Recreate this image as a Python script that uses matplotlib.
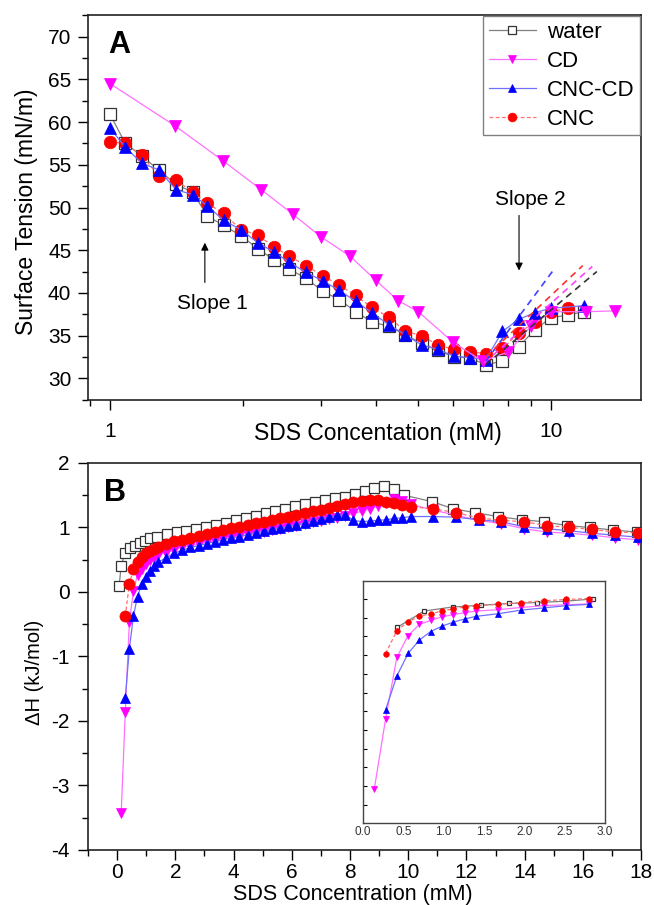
import matplotlib
matplotlib.use("Agg")
import matplotlib.pyplot as plt
from matplotlib.ticker import MultipleLocator, LogLocator, NullFormatter, FixedLocator, FixedFormatter

plt.rcParams['font.family'] = ['Liberation Sans', 'DejaVu Sans']
plt.rcParams['axes.unicode_minus'] = False

# ---- panel A : surface tension vs SDS (log x) ----
a_water_x = [1.0, 1.08, 1.18, 1.29, 1.41, 1.54, 1.66, 1.81, 1.98, 2.16, 2.35, 2.55, 2.78, 3.04, 3.31,
             3.61, 3.92, 4.28, 4.67, 5.09, 5.53, 6.02, 6.54, 7.11, 7.76, 8.45, 9.19, 10.0, 10.9, 11.85]
a_water_y = [60.9, 57.6, 56.0, 54.4, 52.7, 51.8, 49.0, 47.9, 46.7, 45.2, 43.9, 42.8, 41.7, 40.2, 39.2,
             37.8, 36.6, 36.1, 35.1, 34.1, 33.3, 32.5, 32.4, 31.6, 32.0, 33.7, 35.7, 37.1, 37.4, 37.8]

a_cd_x = [1.0, 1.4, 1.8, 2.2, 2.6, 3.0, 3.5, 4.0, 4.5, 5.0, 6.0, 7.0, 8.0, 9.0, 10.0, 12.0, 14.0]
a_cd_y = [64.5, 59.6, 55.5, 52.1, 49.2, 46.6, 44.3, 41.5, 39.1, 37.8, 34.2, 32.0, 33.1, 36.1, 37.8, 37.8, 37.9]

a_cnccd_x = [1.0, 1.08, 1.18, 1.29, 1.41, 1.54, 1.66, 1.81, 1.98, 2.16, 2.35, 2.55, 2.78, 3.04, 3.31,
             3.61, 3.92, 4.28, 4.67, 5.09, 5.53, 6.02, 6.54, 7.11, 7.76, 8.45, 9.19, 10.0, 11.85]
a_cnccd_y = [59.3, 57.1, 55.2, 54.4, 52.1, 51.5, 50.2, 48.5, 47.4, 45.9, 44.8, 43.6, 42.4, 41.4, 40.3,
             39.0, 37.7, 36.3, 35.1, 33.9, 33.4, 32.6, 32.4, 32.2, 35.5, 36.9, 37.7, 38.2, 38.5]

a_cnc_x = [1.0, 1.08, 1.18, 1.29, 1.41, 1.54, 1.66, 1.81, 1.98, 2.16, 2.35, 2.55, 2.78, 3.04, 3.31,
           3.61, 3.92, 4.28, 4.67, 5.09, 5.53, 6.02, 6.54, 7.11, 7.76, 8.45, 9.19, 10.0, 10.9]
a_cnc_y = [57.7, 57.5, 56.1, 53.7, 53.2, 51.8, 50.5, 49.3, 47.4, 46.8, 45.4, 44.3, 43.2, 42.0, 40.9,
           39.7, 38.3, 37.2, 35.5, 35.0, 33.9, 33.4, 33.1, 32.9, 33.5, 35.3, 36.6, 37.8, 38.2]

# slope-2 fit lines (start, end)
fit_water_x, fit_water_y = [7.11, 12.7], [31.6, 42.5]
fit_cd_x, fit_cd_y = [7.06, 12.4], [31.8, 43.1]
fit_cnccd_x, fit_cnccd_y = [7.11, 10.1], [32.0, 42.6]
fit_cnc_x, fit_cnc_y = [7.11, 11.8], [32.5, 43.2]

# ---- panel B : enthalpy vs SDS ----
b_water_x = [0.07, 0.14, 0.28, 0.45, 0.62, 0.79, 0.96, 1.13, 1.36, 1.70, 2.04, 2.38, 2.72, 3.06, 3.40,
             3.74, 4.08, 4.42, 4.76, 5.10, 5.44, 5.78, 6.12, 6.46, 6.80, 7.14, 7.48, 7.82, 8.16, 8.50,
             8.84, 9.18, 9.52, 9.86, 10.83, 11.55, 12.31, 13.08, 13.91, 14.66, 15.45, 16.24, 17.04, 17.86]
b_water_y = [0.10, 0.41, 0.61, 0.68, 0.72, 0.76, 0.79, 0.83, 0.86, 0.90, 0.93, 0.95, 0.98, 1.01, 1.04,
             1.07, 1.11, 1.15, 1.18, 1.22, 1.25, 1.29, 1.33, 1.36, 1.39, 1.42, 1.45, 1.48, 1.52, 1.57,
             1.62, 1.65, 1.60, 1.50, 1.40, 1.29, 1.23, 1.17, 1.12, 1.09, 1.03, 1.00, 0.96, 0.93]

b_cd_x = [0.14, 0.28, 0.42, 0.56, 0.70, 0.84, 0.98, 1.12, 1.26, 1.40, 1.68, 1.96, 2.24, 2.52, 2.80,
          3.08, 3.36, 3.64, 3.92, 4.20, 4.48, 4.76, 5.04, 5.32, 5.60, 5.88, 6.16, 6.44, 6.72, 7.00,
          7.28, 7.56, 7.84, 8.12, 8.40, 8.68, 8.96, 9.24, 9.52, 9.80, 10.08, 10.86, 11.64, 12.42, 13.20,
          13.98, 14.76, 15.54, 16.32, 17.10, 17.88]
b_cd_y = [-3.43, -1.86, -0.47, 0.02, 0.27, 0.36, 0.44, 0.49, 0.53, 0.57, 0.61, 0.65, 0.69, 0.72, 0.74,
          0.77, 0.79, 0.82, 0.84, 0.86, 0.88, 0.91, 0.93, 0.96, 0.98, 1.00, 1.03, 1.05, 1.08, 1.10,
          1.13, 1.15, 1.18, 1.22, 1.25, 1.29, 1.33, 1.38, 1.44, 1.41, 1.36, 1.27, 1.19, 1.11, 1.06,
          0.98, 0.93, 0.91, 0.88, 0.84, 0.81]

b_cnccd_x = b_cd_x[1:]
b_cnccd_y = [-1.64, -0.88, -0.37, -0.07, 0.12, 0.24, 0.33, 0.40, 0.46, 0.53, 0.60, 0.65, 0.69, 0.72,
             0.75, 0.78, 0.81, 0.84, 0.86, 0.89, 0.92, 0.94, 0.97, 0.99, 1.02, 1.04, 1.07, 1.10, 1.13,
             1.16, 1.19, 1.20, 1.11, 1.09, 1.10, 1.11, 1.12, 1.14, 1.15, 1.17, 1.17, 1.16, 1.12, 1.09,
             1.01, 0.98, 0.95, 0.91, 0.88, 0.85]

b_cnc_x = b_cd_x[1:]
b_cnc_y = [-0.38, 0.13, 0.35, 0.47, 0.54, 0.60, 0.64, 0.67, 0.70, 0.75, 0.79, 0.81, 0.84, 0.87,
           0.90, 0.93, 0.96, 0.99, 1.01, 1.04, 1.07, 1.09, 1.12, 1.14, 1.17, 1.19, 1.22, 1.25, 1.27,
           1.30, 1.33, 1.36, 1.39, 1.41, 1.42, 1.42, 1.40, 1.38, 1.35, 1.32, 1.29, 1.23, 1.15, 1.11,
           1.09, 1.03, 1.00, 0.97, 0.93, 0.92]

# ---- inset : low concentration zoom ----
i_water_x = [0.42, 0.76, 1.11, 1.46, 1.81, 2.16, 2.50, 2.85]
i_water_y = [0.20, 0.57, 0.66, 0.70, 0.74, 0.76, 0.79, 0.84]
i_cd_x = [0.14, 0.28, 0.42, 0.56, 0.70, 0.84, 0.98, 1.12, 1.26, 1.40, 1.68, 1.96, 2.24, 2.52, 2.80]
i_cd_y = [-3.43, -1.86, -0.47, 0.02, 0.27, 0.36, 0.44, 0.49, 0.53, 0.57, 0.60, 0.65, 0.69, 0.71, 0.73]
i_cnccd_x = i_cd_x[1:]
i_cnccd_y = [-1.65, -0.89, -0.38, -0.08, 0.11, 0.23, 0.32, 0.39, 0.45, 0.51, 0.59, 0.64, 0.69, 0.72]
i_cnc_x = i_cd_x[1:]
i_cnc_y = [-0.39, 0.13, 0.33, 0.45, 0.51, 0.57, 0.62, 0.66, 0.69, 0.72, 0.76, 0.80, 0.83, 0.85]

labels = ['water', 'CD', 'CNC-CD', 'CNC']
mark = {'water': 's', 'CD': 'v', 'CNC-CD': '^', 'CNC': 'o'}
mcol = {'water': '#333333', 'CD': '#ff00ff', 'CNC-CD': '#0000ff', 'CNC': '#ff0000'}
lcol = {'water': '#808080', 'CD': '#ff70ff', 'CNC-CD': '#7070ff', 'CNC': '#ff7070'}
lsty = {'water': '-', 'CD': '-', 'CNC-CD': '-', 'CNC': (0, (3, 2))}


def draw(ax, x, y, name, ms, z):
    fc = 'white' if name == 'water' else mcol[name]
    ax.plot(x, y, color=lcol[name], ls=lsty[name], lw=0.9, marker=mark[name], ms=ms,
            mfc=fc, mec=mcol[name], mew=0.9 if name == 'water' else 0.5, label=name, zorder=z)


def style_ticks(ax, size):
    ax.tick_params(which='both', direction='out', top=False, right=False, width=1, labelsize=size)
    ax.tick_params(which='major', length=7)
    ax.tick_params(which='minor', length=4)
    for s in ax.spines.values():
        s.set_linewidth(1.2)
        s.set_color('#222222')


fig = plt.figure(figsize=(6.54, 9.05), dpi=100)
axA = fig.add_axes([0.1346, 0.558, 0.8456, 0.4254])
axB = fig.add_axes([0.1346, 0.0608, 0.8456, 0.4276])
axI = fig.add_axes([0.555, 0.0906, 0.370, 0.2677])

# panel A
draw(axA, a_water_x, a_water_y, 'water', 8, 3)
draw(axA, a_cd_x, a_cd_y, 'CD', 9, 6)
draw(axA, a_cnccd_x, a_cnccd_y, 'CNC-CD', 9, 5)
draw(axA, a_cnc_x, a_cnc_y, 'CNC', 9, 4)
for fx, fy, c in [(fit_water_x, fit_water_y, '#333333'), (fit_cd_x, fit_cd_y, '#ff40ff'),
                  (fit_cnccd_x, fit_cnccd_y, '#4040ff'), (fit_cnc_x, fit_cnc_y, '#ff3030')]:
    axA.plot(fx, fy, color=c, lw=1.2, ls=(0, (4, 3)), zorder=7)

axA.set_xscale('log')
axA.set_xlim(0.891, 16.0)
axA.set_ylim(27.46, 72.54)
axA.xaxis.set_major_locator(FixedLocator([1, 10]))
axA.xaxis.set_major_formatter(FixedFormatter(['1', '10']))
axA.xaxis.set_minor_locator(LogLocator(base=10, subs=range(2, 10)))
axA.xaxis.set_minor_formatter(NullFormatter())
axA.yaxis.set_major_locator(MultipleLocator(5))
axA.yaxis.set_minor_locator(MultipleLocator(2.5))
style_ticks(axA, 15)
axA.tick_params(axis='x', which='major', pad=9)
axA.tick_params(axis='y', pad=5)
axA.set_xlabel('SDS Concentation (mM)', fontsize=16.5)
axA.xaxis.set_label_coords(0.524, -0.056)
axA.set_ylabel('Surface Tension (mN/m)', fontsize=16.5)
axA.yaxis.set_label_coords(-0.09, 0.49)
axA.text(0.056, 0.922, 'A', transform=axA.transAxes, fontsize=22, fontweight='bold',
         ha='center', va='center')

h, l = axA.get_legend_handles_labels()
order = [l.index(n) for n in labels]
leg = axA.legend([h[i] for i in order], labels, loc='upper right', fontsize=16,
                 frameon=True, fancybox=False, edgecolor='#808080', framealpha=1,
                 borderaxespad=0.05, handlelength=2.1, handletextpad=0.5,
                 labelspacing=0.36, borderpad=0.25, markerscale=0.7)
leg.get_frame().set_linewidth(1.0)

axA.annotate('', xy=(1.64, 46.2), xytext=(1.64, 40.9),
             arrowprops=dict(arrowstyle='-|>', color='black', lw=0.8, mutation_scale=11))
axA.text(1.706, 38.8, 'Slope 1', fontsize=15, ha='center', va='center')
axA.annotate('', xy=(8.46, 42.3), xytext=(8.46, 49.4),
             arrowprops=dict(arrowstyle='-|>', color='black', lw=0.8, mutation_scale=11))
axA.text(8.96, 50.9, 'Slope 2', fontsize=15, ha='center', va='center')

# panel B
draw(axB, b_water_x, b_water_y, 'water', 7, 3)
draw(axB, b_cd_x, b_cd_y, 'CD', 7.5, 4)
draw(axB, b_cnccd_x, b_cnccd_y, 'CNC-CD', 7.5, 5)
draw(axB, b_cnc_x, b_cnc_y, 'CNC', 8, 6)
axB.set_xlim(-1, 18)
axB.set_ylim(-4, 2)
axB.xaxis.set_major_locator(MultipleLocator(2))
axB.xaxis.set_minor_locator(MultipleLocator(1))
axB.yaxis.set_major_locator(MultipleLocator(1))
axB.yaxis.set_minor_locator(MultipleLocator(0.5))
style_ticks(axB, 15)
axB.tick_params(axis='x', pad=2.5)
axB.tick_params(axis='y', pad=6)
axB.set_xlabel('SDS Concentration (mM)', fontsize=15.5)
axB.xaxis.set_label_coords(0.479, -0.088)
axB.set_ylabel('ΔH (kJ/mol)', fontsize=14.5)
axB.yaxis.set_label_coords(-0.08, 0.46)
axB.text(0.048, 0.922, 'B', transform=axB.transAxes, fontsize=22, fontweight='bold',
         ha='center', va='center')

# inset
draw(axI, i_water_x, i_water_y, 'water', 3.5, 3)
draw(axI, i_cd_x, i_cd_y, 'CD', 4, 4)
draw(axI, i_cnccd_x, i_cnccd_y, 'CNC-CD', 4, 5)
draw(axI, i_cnc_x, i_cnc_y, 'CNC', 4, 6)
axI.set_xlim(0, 3)
axI.set_ylim(-4.19, 1.25)
axI.xaxis.set_major_locator(MultipleLocator(0.5))
axI.xaxis.set_major_formatter(plt.FormatStrFormatter('%.1f'))
axI.yaxis.set_major_locator(MultipleLocator(0.42))
axI.tick_params(which='both', direction='in', top=False, right=False, length=3, width=0.8,
                labelsize=8.5, labelcolor='#333333', pad=2)
axI.tick_params(axis='x', length=0)
axI.set_yticklabels([])
for s in axI.spines.values():
    s.set_linewidth(1.0)
    s.set_color('#444444')

fig.savefig('out.png', dpi=100)
